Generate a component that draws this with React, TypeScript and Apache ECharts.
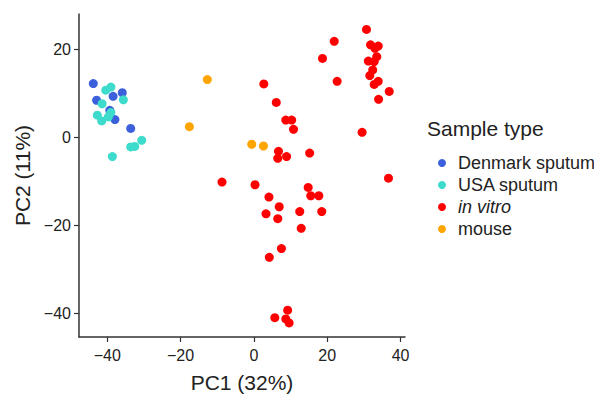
import React, { useEffect, useRef } from "react";
import * as echarts from "echarts";

const denmarkSputum: [number, number][] = [
  [-43.8, 12.2], [-42.9, 8.4], [-38.4, 9.3], [-35.9, 10.1], [-39.3, 6.1], [-37.9, 4.0], [-33.6, 2.0],
];
const usaSputum: [number, number][] = [
  [-40.4, 10.7], [-39.0, 11.4], [-41.4, 7.6], [-35.6, 8.5], [-42.7, 5.0], [-41.5, 3.7], [-39.7, 4.6],
  [-39.0, 5.6], [-33.6, -2.2], [-32.5, -2.1], [-30.6, -0.7], [-38.6, -4.4],
];
const inVitro: [number, number][] = [
  [30.7, 24.5], [21.9, 21.8], [31.8, 21.0], [33.9, 20.7], [33.0, 20.2], [18.7, 17.9], [33.5, 18.3],
  [31.2, 17.3], [32.8, 17.2], [32.4, 15.3], [31.6, 14.0], [22.7, 12.7], [2.7, 12.1], [33.9, 12.7],
  [32.8, 12.0], [36.9, 10.4], [34.0, 8.6], [6.1, 7.9], [8.7, 3.9], [10.3, 3.9], [10.8, 1.8],
  [29.5, 1.1], [6.7, -3.2], [15.2, -3.6], [6.5, -4.8], [8.9, -4.4], [-8.7, -10.2], [0.3, -10.8],
  [36.7, -9.3], [14.8, -11.4], [15.5, -13.3], [17.7, -13.3], [4.1, -13.6], [6.9, -15.8], [3.3, -17.4],
  [6.5, -18.5], [12.5, -16.9], [18.5, -16.9], [12.9, -20.7], [7.5, -25.3], [4.2, -27.3], [9.2, -39.3],
  [5.7, -41.0], [8.7, -41.3], [9.6, -42.2],
];
const mouse: [number, number][] = [
  [-12.7, 13.1], [-17.6, 2.4], [-0.6, -1.6], [2.6, -2.0],
];

const seriesNames = ["Denmark sputum", "USA sputum", "in vitro", "mouse"];
const seriesColors = ["#3c5fdc", "#3ddbcb", "#ff0000", "#ffa500"];
const xTicks = [-40, -20, 0, 20, 40];
const yTicks = [-40, -20, 0, 20];

export default function App() {
  const ref = useRef<HTMLDivElement>(null);
  useEffect(() => {
    if (!ref.current) return;
    const chart = echarts.init(ref.current, null, { renderer: "svg" });
    const datasets = [denmarkSputum, usaSputum, inVitro, mouse];
    const font = "Liberation Sans, Arial, sans-serif";
    const fmt = (v: number) => String(v).replace("-", "\u2212");
    const axisCommon = {
      type: "value" as const,
      splitLine: { show: false },
      axisLine: { show: true, onZero: false, lineStyle: { color: "#333", width: 1.5 } },
      axisTick: { show: true, length: 5, lineStyle: { color: "#333", width: 1.2 } },
      nameLocation: "middle" as const,
      nameTextStyle: { fontSize: 21, color: "#222", fontFamily: font },
    };
    chart.setOption({
      animation: false,
      backgroundColor: "#fff",
      textStyle: { fontFamily: font },
      grid: { left: 79, right: 189, top: 14, bottom: 54, containLabel: false },
      title: {
        text: "Sample type",
        left: 422,
        top: 113,
        textStyle: { fontSize: 21, fontWeight: "normal", color: "#222", fontFamily: font },
      },
      legend: {
        orient: "vertical",
        left: 433,
        top: 149,
        itemWidth: 8,
        itemHeight: 8,
        itemGap: 4,
        icon: "circle",
        data: seriesNames,
        formatter: (name: string) => (name === "in vitro" ? "{i|in vitro}" : "{n|" + name + "}"),
        textStyle: {
          fontSize: 18,
          color: "#222",
          fontFamily: font,
          padding: [0, 0, 0, 7],
          rich: {
            i: { fontSize: 18, fontStyle: "italic", color: "#222", fontFamily: font },
            n: { fontSize: 18, color: "#222", fontFamily: font },
          },
        },
      },
      xAxis: {
        ...axisCommon,
        min: -47.7,
        max: 41.2,
        name: "PC1 (32%)",
        nameGap: 35,
        axisTick: { ...axisCommon.axisTick, customValues: xTicks },
        axisLabel: { customValues: xTicks, formatter: fmt, fontSize: 16, color: "#222", margin: 10, fontFamily: font },
      },
      yAxis: {
        ...axisCommon,
        min: -45.4,
        max: 28,
        name: "PC2 (11%)",
        nameGap: 42,
        axisTick: { ...axisCommon.axisTick, customValues: yTicks },
        axisLabel: { customValues: yTicks, formatter: fmt, fontSize: 16, color: "#222", margin: 8, fontFamily: font },
      },
      series: seriesNames.map((name, i) => ({
        name,
        type: "scatter",
        data: datasets[i],
        symbolSize: 9,
        itemStyle: { color: seriesColors[i], opacity: 1 },
      })),
    });
    return () => chart.dispose();
  }, []);
  return <div ref={ref} style={{ width: 594, height: 398, position: "absolute", left: 0, top: 0 }} />;
}
